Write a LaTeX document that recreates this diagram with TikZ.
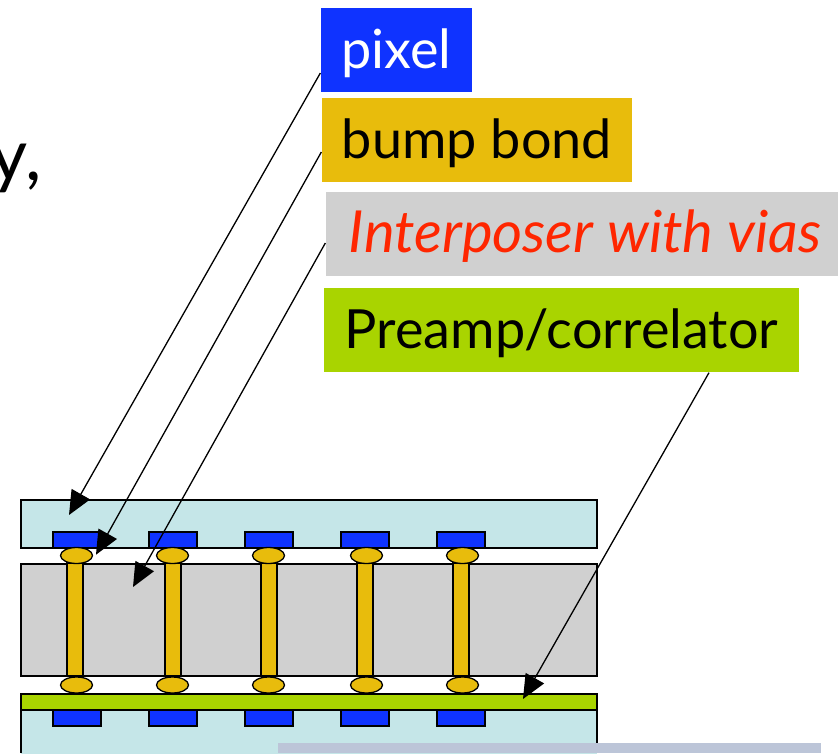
\documentclass[tikz,border=0pt]{standalone}
\usepackage{fontspec}
\setmainfont{Lato}
\usetikzlibrary{arrows.meta}
\definecolor{pixelblue}{HTML}{0F33FF}
\definecolor{bumpgold}{HTML}{E8BC0C}
\definecolor{viagray}{HTML}{D0D0D0}
\definecolor{preampgreen}{HTML}{A9D400}
\definecolor{slabblue}{HTML}{C5E6E8}
\definecolor{footblue}{HTML}{BCC5D8}
\begin{document}
\begin{tikzpicture}[x=1pt, y=-1pt, line width=1.3pt,
    key node/.style={inner sep=0pt, text height=60pt, text depth=24pt, align=center, font=\fontsize{54}{54}\selectfont},
    layer/.style={draw=black},
    pointer/.style={-{Triangle[length=24pt,width=21pt]}, line width=1.3pt}]
    \useasboundingbox (0,0) rectangle (838,753);
    % stack
    \fill[slabblue] (21,710) rectangle (597,760);
    \draw[layer] (21,753) -- (21,710) -- (597,710) -- (597,753);
    \draw[layer, fill=slabblue] (21,500) rectangle (597,548);
    \draw[layer, fill=viagray] (21,564) rectangle (597,676);
    \draw[layer, fill=preampgreen] (21,694) rectangle (597,710);
    \foreach \x in {53,149,245,341,437} {
        \draw[layer, fill=pixelblue] (\x,532) rectangle +(48,16);
        \draw[layer, fill=pixelblue] (\x,710) rectangle +(48,16);
    }
    \foreach \x/\v in {76.5/67,172.5/165,268.5/261,366.5/357,462.5/453} {
        \draw[layer, fill=bumpgold] (\v,563) rectangle +(16,113);
        \draw[layer, fill=bumpgold] (\x,555.5) ellipse (16 and 8);
        \draw[layer, fill=bumpgold] (\x,685) ellipse (16 and 8);
    }
    \fill[footblue] (278,743) rectangle (821,753);
    % key
    \node[key node, fill=pixelblue, text=white, minimum width=151pt] (pixel) at (396.5,50) {pixel};
    \node[key node, fill=bumpgold, minimum width=310pt] (bump) at (477,140) {bump bond};
    \node[key node, fill=viagray, text={rgb,255:red,255;green,38;blue,0}, font=\fontsize{58}{58}\selectfont\itshape, minimum width=512pt] (interposer) at (582,234) {\hspace*{6pt}Interposer with vias};
    \node[key node, fill=preampgreen, minimum width=475pt] (preamp) at (561.5,330) {Preamp/correlator};
    \node[anchor=base east, inner sep=0pt, font=\fontsize{72}{72}\selectfont] (cutoff) at (42,180) {y,};
    % targets
    \coordinate (pixel tip) at (69,515);
    \coordinate (bump tip) at (96,554.7);
    \coordinate (interposer tip) at (133,587);
    \coordinate (preamp tip) at (523,699);
    \draw[pointer] ([yshift=-23pt]pixel.west) -- (pixel tip);
    \draw[pointer] ([yshift=-12pt]bump.west) -- (bump tip);
    \draw[pointer] ([yshift=-9pt]interposer.west) -- (interposer tip);
    \draw[pointer] ([xshift=147.5pt]preamp.south) -- (preamp tip);
\end{tikzpicture}
\end{document}
